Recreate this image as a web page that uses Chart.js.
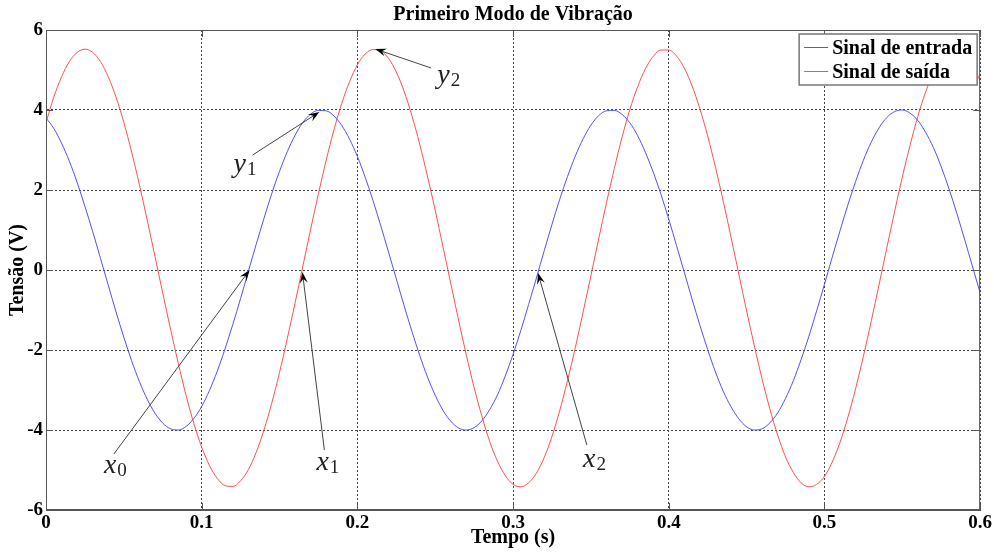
<!DOCTYPE html>
<html>
<head>
<meta charset="utf-8">
<script src="https://cdn.jsdelivr.net/npm/chart.js@4"></script>
<style>
  html, body { margin: 0; padding: 0; background: #fff; }
  #wrap { width: 994px; height: 552px; }
</style>
</head>
<body>
<div id="wrap"><canvas id="grafico" width="994" height="552"></canvas></div>
<script>
// tempo (s), amostrado a cada 0.005 s
const tempo = [0, 0.005, 0.01, 0.015, 0.02, 0.025, 0.03, 0.035, 0.04, 0.045,
  0.05, 0.055, 0.06, 0.065, 0.07, 0.075, 0.08, 0.085, 0.09, 0.095,
  0.10, 0.105, 0.11, 0.115, 0.12, 0.125, 0.13, 0.135, 0.14, 0.145,
  0.15, 0.155, 0.16, 0.165, 0.17, 0.175, 0.18, 0.185, 0.19, 0.195,
  0.20, 0.205, 0.21, 0.215, 0.22, 0.225, 0.23, 0.235, 0.24, 0.245,
  0.25, 0.255, 0.26, 0.265, 0.27, 0.275, 0.28, 0.285, 0.29, 0.295,
  0.30, 0.305, 0.31, 0.315, 0.32, 0.325, 0.33, 0.335, 0.34, 0.345,
  0.35, 0.355, 0.36, 0.365, 0.37, 0.375, 0.38, 0.385, 0.39, 0.395,
  0.40, 0.405, 0.41, 0.415, 0.42, 0.425, 0.43, 0.435, 0.44, 0.445,
  0.45, 0.455, 0.46, 0.465, 0.47, 0.475, 0.48, 0.485, 0.49, 0.495,
  0.50, 0.505, 0.51, 0.515, 0.52, 0.525, 0.53, 0.535, 0.54, 0.545,
  0.55, 0.555, 0.56, 0.565, 0.57, 0.575, 0.58, 0.585, 0.59, 0.595, 0.60];

// Sinal de entrada (V)
const entrada = [3.80, 3.54, 3.17, 2.72, 2.19, 1.59, 0.96, 0.29, -0.38, -1.05,
  -1.68, -2.27, -2.79, -3.23, -3.58, -3.83, -3.97, -4.00, -3.91, -3.71,
  -3.41, -3.01, -2.53, -1.97, -1.36, -0.71, -0.03, 0.64, 1.29, 1.91,
  2.47, 2.96, 3.37, 3.69, 3.90, 3.99, 3.98, 3.85, 3.61, 3.27,
  2.84, 2.32, 1.74, 1.11, 0.45, -0.22, -0.89, -1.53, -2.13, -2.67,
  -3.13, -3.51, -3.78, -3.95, -4.00, -3.94, -3.77, -3.49, -3.12, -2.65,
  -2.11, -1.51, -0.86, -0.20, 0.48, 1.14, 1.77, 2.34, 2.85, 3.28,
  3.62, 3.86, 3.98, 3.99, 3.89, 3.68, 3.36, 2.94, 2.45, 1.89,
  1.27, 0.61, -0.06, -0.73, -1.38, -1.99, -2.55, -3.03, -3.42, -3.72,
  -3.92, -4.00, -3.97, -3.82, -3.57, -3.21, -2.77, -2.24, -1.66, -1.02,
  -0.36, 0.32, 0.98, 1.62, 2.21, 2.74, 3.19, 3.55, 3.81, 3.96,
  4.00, 3.92, 3.74, 3.44, 3.06, 2.58, 2.03, 1.42, 0.77, 0.10, -0.57];

// Sinal de saída (V)
const saida = [3.69, 4.32, 4.83, 5.21, 5.44, 5.52, 5.44, 5.21, 4.83, 4.32,
  3.69, 2.95, 2.13, 1.25, 0.34, -0.58, -1.48, -2.34, -3.14, -3.84,
  -4.43, -4.89, -5.21, -5.39, -5.41, -5.27, -4.99, -4.56, -4.00, -3.33,
  -2.56, -1.71, -0.82, 0.10, 1.02, 1.91, 2.75, 3.51, 4.17, 4.71,
  5.13, 5.40, 5.51, 5.48, 5.29, 4.95, 4.47, 3.86, 3.15, 2.35,
  1.49, 0.58, -0.34, -1.25, -2.13, -2.94, -3.66, -4.29, -4.78, -5.14,
  -5.36, -5.42, -5.32, -5.08, -4.69, -4.16, -3.51, -2.76, -1.94, -1.05,
  -0.14, 0.78, 1.68, 2.53, 3.32, 4.01, 4.58, 5.03, 5.34, 5.50,
  5.50, 5.35, 5.05, 4.60, 4.03, 3.35, 2.57, 1.72, 0.82, -0.10,
  -1.02, -1.90, -2.73, -3.48, -4.13, -4.67, -5.06, -5.32, -5.42, -5.36,
  -5.16, -4.80, -4.31, -3.69, -2.97, -2.16, -1.29, -0.38, 0.54, 1.45,
  2.32, 3.12, 3.84, 4.45, 4.93, 5.28, 5.47, 5.52, 5.40, 5.14, 4.73];

const nomesSeries = ['Sinal de entrada', 'Sinal de saída'];
const coresSeries = ['#5050ff', '#ff5050'];

// anotações: rótulo, índice, ponta da seta, cauda da seta, posição do texto (unidades dos eixos)
const anotRotulo = ['y', 'y', 'x', 'x', 'x'];
const anotIndice = ['1', '2', '0', '1', '2'];
const anotPonta  = [[0.1756, 3.95], [0.2115, 5.525], [0.1308, 0.0], [0.1647, -0.05], [0.316, -0.075]];
const anotCauda  = [[0.1327, 2.875], [0.2474, 5.05], [0.0436, -4.6], [0.1788, -4.5], [0.3474, -4.375]];
const anotTexto  = [[0.1205, 2.45], [0.2513, 4.675], [0.0372, -5.075], [0.1737, -5.0], [0.3449, -4.925]];

const SERIF = '"Liberation Serif", "Times New Roman", serif';

function pares(xs, ys){ return xs.map((x, i) => ({ x, y: ys[i] })); }

// ticks pra dentro, estilo matlab
const ticksInternos = {
  id: 'ticksInternos',
  afterDatasetsDraw(chart){
    const { ctx, chartArea: a, scales: { x, y } } = chart;
    ctx.save();
    ctx.strokeStyle = '#555';
    ctx.lineWidth = 1;
    ctx.beginPath();
    x.ticks.forEach(t => {
      const px = Math.round(x.getPixelForValue(t.value)) + 0.5;
      ctx.moveTo(px, a.bottom); ctx.lineTo(px, a.bottom - 7);
      ctx.moveTo(px, a.top);    ctx.lineTo(px, a.top + 7);
    });
    y.ticks.forEach(t => {
      const py = Math.round(y.getPixelForValue(t.value)) + 0.5;
      ctx.moveTo(a.left, py);  ctx.lineTo(a.left + 7, py);
      ctx.moveTo(a.right, py); ctx.lineTo(a.right - 7, py);
    });
    ctx.stroke();
    ctx.strokeRect(a.left + 0.5, a.top + 0.5, a.right - a.left - 1, a.bottom - a.top - 1);
    ctx.restore();
  }
};

// setas com rótulos (x0, x1, x2, y1, y2)
const setas = {
  id: 'setas',
  afterDatasetsDraw(chart){
    const { ctx, scales: { x, y } } = chart;
    ctx.save();
    anotRotulo.forEach((rot, i) => {
      const x0 = x.getPixelForValue(anotCauda[i][0]), y0 = y.getPixelForValue(anotCauda[i][1]);
      const x1 = x.getPixelForValue(anotPonta[i][0]), y1 = y.getPixelForValue(anotPonta[i][1]);
      const c = Math.cos(Math.atan2(y1 - y0, x1 - x0)), s = Math.sin(Math.atan2(y1 - y0, x1 - x0));
      ctx.strokeStyle = '#444';
      ctx.lineWidth = 1;
      ctx.beginPath();
      ctx.moveTo(x0, y0);
      ctx.lineTo(x1 - 6 * c, y1 - 6 * s);
      ctx.stroke();
      // ponta da seta
      ctx.fillStyle = '#000';
      ctx.beginPath();
      ctx.moveTo(x1, y1);
      ctx.lineTo(x1 - 11 * c + 4 * s, y1 - 11 * s - 4 * c);
      ctx.lineTo(x1 - 7 * c, y1 - 7 * s);
      ctx.lineTo(x1 - 11 * c - 4 * s, y1 - 11 * s + 4 * c);
      ctx.closePath();
      ctx.fill();
      // rótulo
      const tx = x.getPixelForValue(anotTexto[i][0]), ty = y.getPixelForValue(anotTexto[i][1]);
      ctx.fillStyle = '#222';
      ctx.textBaseline = 'alphabetic';
      ctx.textAlign = 'left';
      ctx.font = 'italic 28px ' + SERIF;
      ctx.fillText(rot, tx, ty);
      const w = ctx.measureText(rot).width;
      ctx.font = '19px ' + SERIF;
      ctx.fillText(anotIndice[i], tx + w + 1, ty + 3);
    });
    ctx.restore();
  }
};

// legenda dentro do gráfico, canto superior direito
const legendaInterna = {
  id: 'legendaInterna',
  afterDraw(chart){
    const { ctx, chartArea: a } = chart;
    const bx = a.right - 181, by = a.top + 4, bw = 178, bh = 51;
    ctx.save();
    ctx.fillStyle = '#fff';
    ctx.fillRect(bx, by, bw, bh);
    ctx.strokeStyle = '#777';
    ctx.lineWidth = 1.5;
    ctx.strokeRect(bx, by, bw, bh);
    ctx.font = 'bold 20px ' + SERIF;
    ctx.textBaseline = 'alphabetic';
    ctx.textAlign = 'left';
    chart.data.datasets.forEach((ds, i) => {
      const ly = by + 13 + i * 24;
      ctx.strokeStyle = ds.borderColor;
      ctx.lineWidth = 1;
      ctx.beginPath();
      ctx.moveTo(bx + 5, ly + 0.5); ctx.lineTo(bx + 29, ly + 0.5);
      ctx.stroke();
      ctx.fillStyle = '#000';
      ctx.fillText(ds.label, bx + 33, ly + 7);
    });
    ctx.restore();
  }
};

// título no topo
const tituloTopo = {
  id: 'tituloTopo',
  afterDraw(chart){
    const { ctx, chartArea: a } = chart;
    ctx.save();
    ctx.fillStyle = '#000';
    ctx.font = 'bold 20px ' + SERIF;
    ctx.textAlign = 'center';
    ctx.textBaseline = 'middle';
    ctx.fillText('Primeiro Modo de Vibração', (a.left + a.right) / 2, 15);
    ctx.restore();
  }
};

const gridCfg = {
  color: '#444',
  lineWidth: 1,
  tickLength: 0,
  drawTicks: false
};

new Chart(document.getElementById('grafico').getContext('2d'), {
  type: 'line',
  data: {
    datasets: [
      { label: nomesSeries[0], data: pares(tempo, entrada), borderColor: coresSeries[0], borderWidth: 1, pointRadius: 0, cubicInterpolationMode: 'monotone', fill: false },
      { label: nomesSeries[1], data: pares(tempo, saida),   borderColor: coresSeries[1], borderWidth: 1, pointRadius: 0, cubicInterpolationMode: 'monotone', fill: false }
    ]
  },
  options: {
    responsive: false,
    animation: false,
    events: [],
    layout: { padding: { top: 30, right: 12, left: 0, bottom: 0 } },
    plugins: { legend: { display: false }, title: { display: false }, tooltip: { enabled: false } },
    scales: {
      x: {
        type: 'linear', min: 0, max: 0.6,
        ticks: { stepSize: 0.1, color: '#000', padding: 2, maxRotation: 0,
                 font: { family: SERIF, size: 19, weight: 'bold' } },
        grid: gridCfg,
        border: { display: true, color: '#555', dash: [2, 2] },
        title: { display: true, text: 'Tempo (s)', color: '#000', padding: { top: -9, bottom: 2 },
                 font: { family: SERIF, size: 20, weight: 'bold' } },
        afterFit: s => { s.height = 42; }
      },
      y: {
        min: -6, max: 6,
        ticks: { stepSize: 2, color: '#000', padding: 3,
                 font: { family: SERIF, size: 19, weight: 'bold' } },
        grid: gridCfg,
        border: { display: true, color: '#555', dash: [2, 2] },
        title: { display: true, text: 'Tensão (V)', color: '#000', padding: { top: 6, bottom: 0 },
                 font: { family: SERIF, size: 20, weight: 'bold' } },
        afterFit: s => { s.width = 46; }
      }
    }
  },
  plugins: [ticksInternos, setas, legendaInterna, tituloTopo]
});
</script>
</body>
</html>
